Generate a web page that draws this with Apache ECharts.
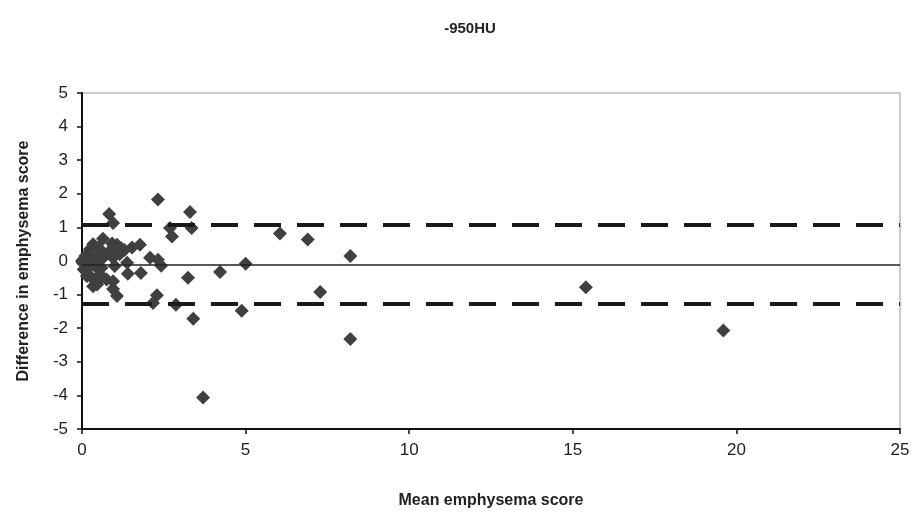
<!DOCTYPE html>
<html>
<head>
<meta charset="utf-8">
<script src="https://cdn.jsdelivr.net/npm/echarts@6/dist/echarts.min.js"></script>
<style>
  html, body { margin: 0; padding: 0; background: #fff; }
  #chart { width: 914px; height: 515px; }
</style>
</head>
<body>
<div id="chart"></div>
<script>
// x: mean of the two scores, y: difference between them
var meanScore = [
    0.83, 0.95, 2.32, 3.30, 3.35, 2.69, 2.75, 6.05, 6.90, 8.20,
    5.00, 4.22, 3.24, 7.28, 4.88, 3.40, 8.20, 3.70, 15.40, 19.60,
    2.29, 2.17, 2.87, 2.08, 2.32, 2.42, 1.77, 1.53, 1.30, 1.40,
    1.80, 1.07, 0.64, 0.34, 0.92, 0.24, 0.46, 0.95, 1.38, 0.55,
    0.95, 1.07, 0.95, 0.46, 0.30, 0.15, 0.34, 0.00, 0.02, 0.05,
    0.10, 0.10, 0.20, 0.20, 0.30, 0.40, 0.50, 0.60, 0.70, 0.75,
    0.85, 0.60, 1.15, 1.20, 0.05, 0.50, 1.00
];
var diffScore = [
    1.40, 1.13, 1.83, 1.46, 0.98, 0.98, 0.73, 0.82, 0.64, 0.15,
    -0.08, -0.33, -0.50, -0.92, -1.48, -1.72, -2.32, -4.06, -0.78, -2.07,
    -1.02, -1.25, -1.30, 0.10, 0.04, -0.14, 0.48, 0.40, 0.33, -0.38,
    -0.36, 0.48, 0.66, 0.50, 0.52, 0.35, 0.15, 0.10, -0.05, -0.40,
    -0.60, -1.04, -0.83, -0.70, -0.50, -0.45, -0.75, 0.00, -0.05, 0.05,
    -0.10, 0.15, 0.00, -0.20, 0.10, -0.15, 0.40, -0.20, 0.20, -0.55,
    0.30, 0.05, 0.20, 0.38, -0.25, -0.60, -0.15
];
// bias and limits of agreement
var meanDiff = -0.12;
var upperLimit = 1.09;
var lowerLimit = -1.28;

var xTicks = [0, 5, 10, 15, 20, 25];
var yTicks = [-5, -4, -3, -2, -1, 0, 1, 2, 3, 4, 5];

var points = meanScore.map(function (m, i) { return [m, diffScore[i]]; });

var chart = echarts.init(document.getElementById('chart'));

var font = 'Liberation Sans, Arial, sans-serif';

var option = {
    animation: false,
    backgroundColor: '#fff',
    title: {
        text: '-950HU',
        left: 465,
        top: 16,
        textAlign: 'center',
        textStyle: { fontFamily: font, fontSize: 15, fontWeight: 'bold', color: '#222' }
    },
    grid: {
        left: 82, right: 14, top: 93, bottom: 86,
        show: true, borderColor: '#999', borderWidth: 1
    },
    xAxis: {
        type: 'value',
        min: xTicks[0], max: xTicks[xTicks.length - 1], interval: 5,
        name: 'Mean emphysema score',
        nameLocation: 'middle',
        nameGap: 64,
        nameTextStyle: { fontFamily: font, fontSize: 16, fontWeight: 'bold', color: '#222' },
        axisLine: { show: true, onZero: false, lineStyle: { color: '#111', width: 2 } },
        axisTick: { show: true, length: 5, lineStyle: { color: '#111', width: 1.5 } },
        axisLabel: { fontFamily: font, fontSize: 17, color: '#222', margin: 13 },
        splitLine: { show: false }
    },
    yAxis: {
        type: 'value',
        min: yTicks[0], max: yTicks[yTicks.length - 1], interval: 1,
        name: 'Difference in emphysema score',
        nameLocation: 'middle',
        nameGap: 50,
        nameTextStyle: { fontFamily: font, fontSize: 16, fontWeight: 'bold', color: '#222' },
        axisLine: { show: true, onZero: false, lineStyle: { color: '#111', width: 2 } },
        axisTick: { show: true, length: 5, lineStyle: { color: '#111', width: 1.5 } },
        axisLabel: { fontFamily: font, fontSize: 17, color: '#222', margin: 14 },
        splitLine: { show: false }
    },
    series: [{
        type: 'scatter',
        data: points,
        symbol: 'diamond',
        symbolSize: 14,
        itemStyle: { color: '#404040', opacity: 1 },
        markLine: {
            silent: true,
            symbol: 'none',
            label: { show: false },
            z: 5,
            data: [
                { yAxis: meanDiff, lineStyle: { color: '#222', width: 1.5, type: 'solid' } },
                { yAxis: upperLimit, lineStyle: { color: '#1a1a1a', width: 4, type: [27, 16] } },
                { yAxis: lowerLimit, lineStyle: { color: '#1a1a1a', width: 4, type: [27, 16] } }
            ]
        }
    }]
};

chart.setOption(option);
</script>
</body>
</html>
